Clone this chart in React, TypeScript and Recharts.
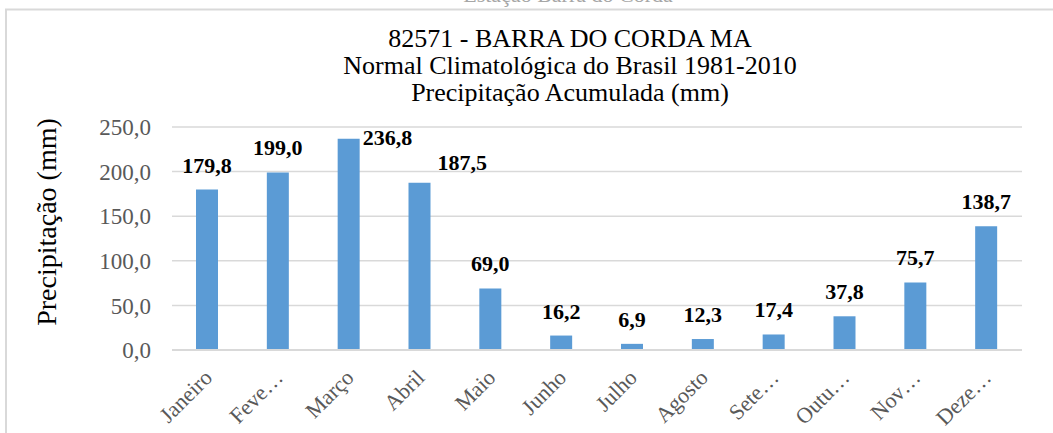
import { BarChart, Bar, XAxis, YAxis, CartesianGrid, LabelList } from 'recharts';

const months = ['Janeiro', 'Fevereiro', 'Março', 'Abril', 'Maio', 'Junho', 'Julho', 'Agosto', 'Setembro', 'Outubro', 'Novembro', 'Dezembro'];
const tickLabels = ['Janeiro', 'Feve…', 'Março', 'Abril', 'Maio', 'Junho', 'Julho', 'Agosto', 'Sete…', 'Outu…', 'Nov…', 'Deze…'];
const precip = [179.8, 199.0, 236.8, 187.5, 69.0, 16.2, 6.9, 12.3, 17.4, 37.8, 75.7, 138.7];
const yTicks = [0, 50, 100, 150, 200, 250];

const titleLines = ['82571 - BARRA DO CORDA MA', 'Normal Climatológica do Brasil 1981-2010', 'Precipitação Acumulada (mm)'];

const data = months.map((m, i) => ({ month: m, value: precip[i] }));

const fmt = (v: number) => v.toFixed(1).replace('.', ',');
const FONT = "'Liberation Serif', 'DejaVu Serif', Tinos, 'Times New Roman', Times, serif";
const fontStyle = { fontFamily: FONT };

// Excel nudged a couple of labels sideways to avoid overlapping
const labelShift: Record<number, { dx: number; dy: number }> = {
  2: { dx: 3, dy: 6 },
  3: { dx: 7, dy: -13 },
};

const renderLabel = (props: any) => {
  const { x, y, width, value, index } = props;
  const shift = labelShift[index];
  const common = { style: fontStyle, fontSize: 22, fontWeight: 'bold', fill: '#000' };
  if (shift) {
    return (
      <text x={x + width + shift.dx} y={y + shift.dy} textAnchor="start" {...common}>
        {fmt(value)}
      </text>
    );
  }
  return (
    <text x={x + width / 2} y={y - 17} textAnchor="middle" {...common}>
      {fmt(value)}
    </text>
  );
};

const XTick = (props: any) => {
  const { x, y, index } = props;
  const px = x + 6;
  const py = y + 27;
  return (
    <text x={px} y={py} transform={`rotate(-45 ${px} ${py})`} textAnchor="end" style={fontStyle} fontSize={22} fill="#595959">
      {tickLabels[index]}
    </text>
  );
};

export default function App() {
  return (
    <div style={{ position: 'absolute', left: 0, top: 0, width: 1053, height: 433, overflow: 'hidden', background: '#fff', fontFamily: FONT }}>
      <svg width={1053} height={433} style={{ position: 'absolute', left: 0, top: 0 }}>
        <text x={568} y={2} textAnchor="middle" style={fontStyle} fontSize={22} fill="#a6a6a6">Estação Barra do Corda</text>
        <rect x={6} y={9.5} width={1060} height={450} fill="none" stroke="#d9d9d9" strokeWidth={2} />
        {titleLines.map((t, i) => (
          <text key={i} x={570} y={47 + i * 27} textAnchor="middle" style={fontStyle} fontSize={26} fill="#000">
            {t}
          </text>
        ))}
        <text x={56} y={222} transform="rotate(-90 56 222)" textAnchor="middle" style={fontStyle} fontSize={28} fill="#000">
          Precipitação (mm)
        </text>
      </svg>
      <div style={{ position: 'absolute', left: 0, top: 0 }}>
        <BarChart width={1053} height={433} data={data} margin={{ top: 127, right: 31, left: 0, bottom: 0 }}>
          <CartesianGrid vertical={false} stroke="#d9d9d9" strokeWidth={1.5} />
          <XAxis
            dataKey="month"
            height={83}
            interval={0}
            tickLine={false}
            tickSize={0}
            axisLine={{ stroke: '#d9d9d9', strokeWidth: 2 }}
            tick={<XTick />}
          />
          <YAxis
            width={172}
            domain={[0, 250]}
            ticks={yTicks}
            tickFormatter={fmt}
            axisLine={false}
            tickLine={false}
            tickSize={0}
            tickMargin={21}
            tick={{ fill: '#595959', fontSize: 23, style: fontStyle }}
          />
          <Bar dataKey="value" fill="#5b9bd5" barSize={22} isAnimationActive={false}>
            <LabelList dataKey="value" content={renderLabel} />
          </Bar>
        </BarChart>
      </div>
    </div>
  );
}
